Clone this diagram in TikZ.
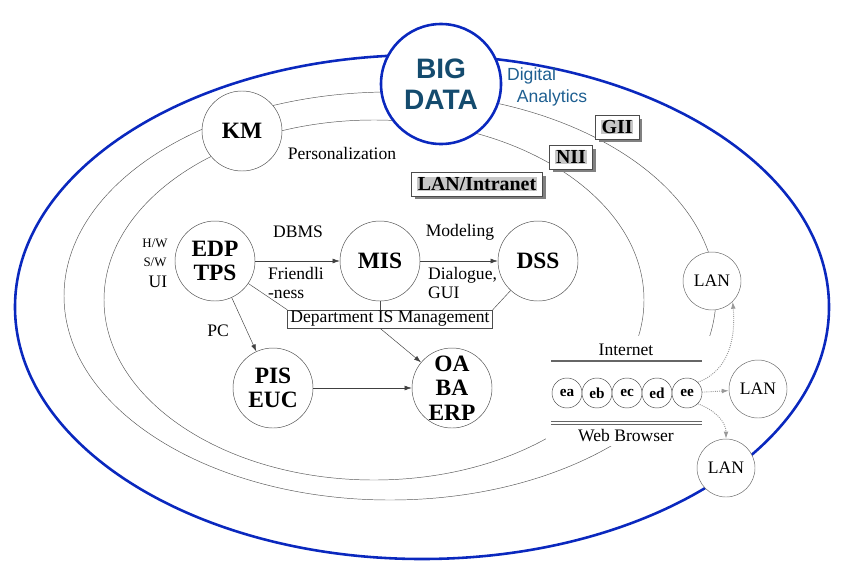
\documentclass[tikz,border=0pt]{standalone}
\usepackage{fontspec}
\setmainfont{Liberation Serif}
\newfontfamily\sansf{Liberation Sans}
\usetikzlibrary{arrows.meta, positioning, calc, shadows}
\definecolor{bigblue}{RGB}{10,40,190}
\definecolor{bigteal}{RGB}{20,75,110}
\definecolor{anateal}{RGB}{30,95,145}
\newcommand{\hl}[1]{{\setlength{\fboxsep}{0.5pt}\colorbox{black!22}{#1}}}
\tikzset{
  sys/.style={circle, draw=black!70, fill=white, minimum size=2.4cm, inner sep=0pt, align=center, font=\fontsize{20}{20}\selectfont\bfseries},
  lan/.style={circle, draw=black!60, fill=white, minimum size=1.74cm, inner sep=0pt, font=\fontsize{15}{15}\selectfont},
  web/.style={circle, draw=black!70, fill=white, minimum size=0.9cm, inner sep=0pt, font=\fontsize{13}{13}\selectfont\bfseries},
  lbl/.style={font=\fontsize{15}{17}\selectfont, align=left},
  net/.style={draw=black!70, fill=white, inner xsep=5pt, inner ysep=4pt, drop shadow={shadow xshift=3pt, shadow yshift=-3pt, fill=black!50, opacity=1}, font=\fontsize{17}{17}\selectfont\bfseries},
  arr/.style={-{Latex[length=6pt,width=4pt]}, draw=black!75},
  dotarr/.style={-{Latex[length=6pt,width=4pt]}, draw=black!40, densely dotted, thick}
}
\begin{document}
\begin{tikzpicture}[x=0.03cm, y=-0.03cm]
	\useasboundingbox (0,0) rectangle (850,584);
	
	% Rings
	\draw[bigblue, line width=2.2pt] (422,307) ellipse [x radius=407, y radius=252];
	\draw[black!65] (390,296) ellipse [x radius=326, y radius=204];
	\draw[black!65] (374,300) ellipse [x radius=270, y radius=180];
	\fill[white] (546,336) rectangle (712,446);
	
	\node[circle, draw=bigblue, line width=2.2pt, fill=white, minimum size=3.6cm, inner sep=0pt, align=center, text=bigteal, font=\sansf\fontsize{24}{27}\selectfont\bfseries] (big) at (441,84) {BIG\\DATA};
	\node[anchor=west, align=left, text=anateal, font=\sansf\fontsize{15}{19}\selectfont] (ana) at (503,87) {Digital\\\ \ Analytics};
	
	\node[sys] (km) at (242,131) {KM};
	\node[lbl] (pers) at (342,153) {Personalization};
	
	\node[net] (intra) at (477,184) {\hl{LAN/Intranet}};
	\node[net] (nii) at (571,157) {\hl{NII}};
	\node[net] (gii) at (617,127) {\hl{GII}};
	
	\node[sys] (edp) at (215,261) {EDP\\TPS};
	\node[sys] (mis) at (380,261) {MIS};
	\node[sys] (dss) at (538,261) {DSS};
	\node[sys] (pis) at (273,388) {PIS\\EUC};
	\node[sys, font=\fontsize{20}{21}\selectfont\bfseries] (oa) at (452,388) {OA\\BA\\ERP};
	\node[draw=black!70, fill=white, inner sep=1pt, minimum width=6.15cm, minimum height=0.54cm, font=\fontsize{15}{15}\selectfont] (dept) at (390,319) {Department IS Management};
	
	\node[font=\fontsize{11}{11}\selectfont] (hw) at (155,243) {H/W};
	\node[font=\fontsize{11}{11}\selectfont] (sw) at (155,262) {S/W};
	\node[lbl] (ui) at (158,282) {UI};
	\node[lbl] (dbms) at (298,232) {DBMS};
	\node[lbl] (model) at (460,232) {Modeling};
	\node[lbl, anchor=west] (friend) at (264,283) {Friendli\\-ness};
	\node[lbl, anchor=west] (dial) at (424,283) {Dialogue,\\GUI};
	\node[lbl] (pc) at (218,331) {PC};
	
	\draw[arr] (edp) -- (mis);
	\draw[arr] (mis) -- (dss);
	\draw[arr] (edp) -- (pis);
	\draw[arr] (pis) -- (oa);
	\draw[arr] ($(dept.south)+(-10,0)$) -- (oa);
	\draw[black!70] (edp) -- (dept.north west);
	\draw[black!70] (mis) -- (mis |- dept.north);
	\draw[black!70] (dss) -- (dept.north east);
	
	% Internet / Web Browser
	\node[lbl] (inet) at (626,350) {Internet};
	\draw[black!60, line width=2.5pt] (551,361) -- (702,361);
	\draw[black!60, double=white, double distance=1pt, line width=1pt] (551,423) -- (702,423);
	\node[lbl] (wb) at (626,436) {Web Browser};
	\node[web] (ea) at (567,393) {ea};
	\node[web] (eb) at (597,393) {eb};
	\node[web] (ec) at (627,393) {ec};
	\node[web] (ed) at (657,393) {ed};
	\node[web] (ee) at (687,393) {ee};
	
	\node[lan] (lan1) at (712,281) {LAN};
	\node[lan] (lan2) at (758,389) {LAN};
	\node[lan] (lan3) at (726,468) {LAN};
	
	\draw[dotarr] (ee.north east) to[out=20, in=-85] (lan1.south east);
	\draw[dotarr] (ee) -- (lan2);
	\draw[dotarr] (ee.south east) to[out=-20, in=90] (lan3.north);
\end{tikzpicture}
\end{document}
